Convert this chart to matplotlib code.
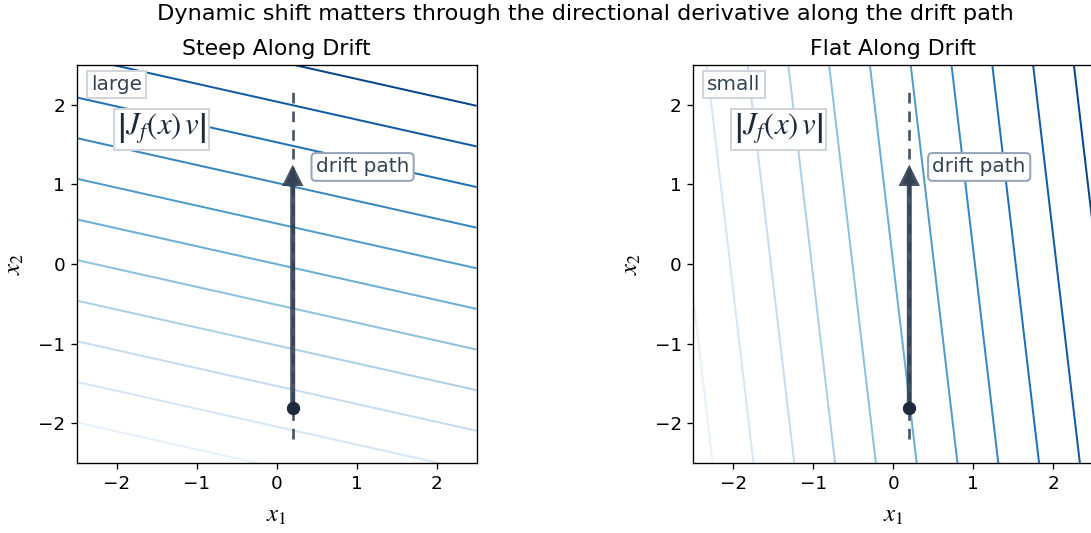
import numpy as np
import matplotlib
matplotlib.use("Agg")
from matplotlib import pyplot as plt
from matplotlib.colors import Normalize
from matplotlib.transforms import Bbox

plt.rcParams['mathtext.fontset'] = 'stix'
plt.rcParams['font.size'] = 11

# panel settings
titles = ['Steep Along Drift', 'Flat Along Drift']
badges = ['large', 'small']
coef_x1 = [0.225, 1.0]
coef_x2 = [1.0, 0.117]
levels = [-3.06, -2.55, -2.04, -1.53, -1.02, -0.51, 0.0, 0.51, 1.02, 1.53, 2.04, 2.55, 3.06]

drift_x = 0.2
drift_start = -1.8
drift_end = 1.25
path_lo, path_hi = -2.2, 2.2

dpi = 120
W, H = 1170, 533
fig = plt.figure(figsize=(W / dpi, H / dpi), dpi=dpi)
ax1 = fig.add_axes([76.7 / W, (533 - 463.3) / H, 400 / W, 398.3 / H])
ax2 = fig.add_axes([693.3 / W, (533 - 463.3) / H, 400 / W, 398.3 / H])

g = np.linspace(-2.5, 2.5, 300)
X1, X2 = np.meshgrid(g, g)
norm = Normalize(vmin=levels[0], vmax=levels[-1])

for ax, t, b, a1, a2 in zip([ax1, ax2], titles, badges, coef_x1, coef_x2):
    Z = a1 * X1 + a2 * X2
    ax.contour(X1, X2, Z, levels=levels, cmap='Blues', norm=norm, linewidths=1.2)
    ax.plot([drift_x, drift_x], [path_lo, path_hi], color='#475569', lw=1.6,
            ls=(0, (4, 3)), zorder=3)
    ax.annotate('', xy=(drift_x, drift_end), xytext=(drift_x, drift_start),
                arrowprops=dict(arrowstyle='-|>', lw=3, color='#334155', alpha=0.9,
                                mutation_scale=20, shrinkA=0, shrinkB=0,
                                joinstyle='miter', capstyle='butt'), zorder=4)
    ax.plot(drift_x, drift_start, 'o', color='#1e293b', ms=7, zorder=5)
    ax.text(drift_x + 0.29, 1.22, 'drift path', fontsize=12, color='#334155',
            va='center', ha='left', zorder=6,
            bbox=dict(boxstyle='round,pad=0.22', fc='white', ec='#94a3b8', lw=1.2))
    ax.text(0.035, 0.95, b, transform=ax.transAxes, fontsize=12, color='#334155',
            va='center', ha='left', zorder=6,
            bbox=dict(boxstyle='square,pad=0.2', fc='white', ec='#d1d5db', lw=1.2))
    ax.text(0.2125, 0.838, r'$\left|J_f(x)\,v\right|$', transform=ax.transAxes, fontsize=18.5,
            color='#1e293b', va='center', ha='center', zorder=6,
            bbox=dict(boxstyle='square,pad=0.1', fc='white', ec='#d1d5db', lw=1.2))
    ax.set_xlim(-2.5, 2.5)
    ax.set_ylim(-2.5, 2.5)
    ax.set_xticks([-2, -1, 0, 1, 2])
    ax.set_yticks([-2, -1, 0, 1, 2])
    ax.set_title(t)
    ax.set_xlabel(r'$x_1$', fontsize=15, labelpad=6)
    ax.set_ylabel(r'$x_2$', fontsize=15, labelpad=7)

fig.suptitle('Dynamic shift matters through the directional derivative along the drift path',
             fontsize=13.4, y=1 - 14 / H, va='center')

fig.savefig('out.png', dpi=dpi, bbox_inches=Bbox([[0, 0], [1091 / dpi, 533 / dpi]]))
